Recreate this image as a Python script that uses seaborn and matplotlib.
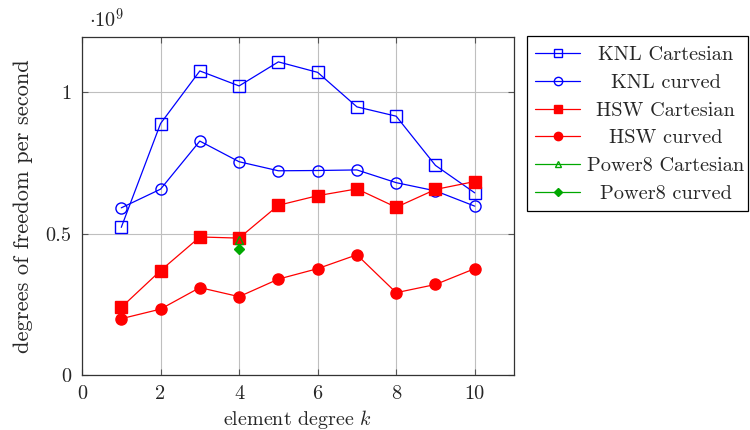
import matplotlib
matplotlib.use("Agg")
import matplotlib.pyplot as plt
import seaborn as sns
import pandas as pd
from matplotlib.patches import Rectangle
from matplotlib.ticker import FuncFormatter, FixedLocator

degrees = [1, 2, 3, 4, 5, 6, 7, 8, 9, 10]
knl_cartesian = [0.522e9, 0.889e9, 1.075e9, 1.022e9, 1.107e9, 1.070e9, 0.948e9, 0.915e9, 0.741e9, 0.644e9]
knl_curved = [0.591e9, 0.657e9, 0.827e9, 0.754e9, 0.722e9, 0.723e9, 0.725e9, 0.680e9, 0.651e9, 0.597e9]
hsw_cartesian = [0.239e9, 0.369e9, 0.488e9, 0.484e9, 0.600e9, 0.634e9, 0.658e9, 0.593e9, 0.656e9, 0.684e9]
hsw_curved = [0.199e9, 0.233e9, 0.309e9, 0.277e9, 0.339e9, 0.376e9, 0.425e9, 0.291e9, 0.320e9, 0.376e9]
power8_degrees = [4]
power8_cartesian = [0.477e9]
power8_curved = [0.446e9]

x_ticks = [0, 2, 4, 6, 8, 10]
y_ticks = [0, 0.5e9, 1.0e9]

sns.set_theme(style="white")
plt.rcParams["font.family"] = ["cmr10", "DejaVu Serif"]
plt.rcParams["mathtext.fontset"] = "cm"
plt.rcParams["axes.unicode_minus"] = False

W, H = 750, 430
fig = plt.figure(figsize=(7.5, 4.3), dpi=100)
ax = fig.add_axes([82 / W, 1 - 375 / H, (514 - 82) / W, (375 - 37) / H])
renderer = fig.canvas.get_renderer()


def fit_size(s, target_px):
    t = fig.text(0, 0, s, fontsize=10)
    w = t.get_window_extent(renderer).width
    t.remove()
    return 10.0 * target_px / w


FS_LEG = fit_size("Power8 Cartesian", 157)
FS_YL = fit_size("degrees of freedom per second", 294)
FS_XL = fit_size(r"element degree $k$", 150)
FS_TICK = fit_size("0.5", 26)

BLUE = "#0000ff"
RED = "#ff0000"
GREEN = "#00a800"

series = [
    ("KNL Cartesian", degrees, knl_cartesian, BLUE, "s", "none", 8.5),
    ("KNL curved", degrees, knl_curved, BLUE, "o", "none", 8),
    ("HSW Cartesian", degrees, hsw_cartesian, RED, "s", RED, 8.5),
    ("HSW curved", degrees, hsw_curved, RED, "o", RED, 8),
    ("Power8 Cartesian", power8_degrees, power8_cartesian, GREEN, "^", "none", 6),
    ("Power8 curved", power8_degrees, power8_curved, GREEN, "D", GREEN, 5),
]

for name, xs, ys, col, mk, fc, ms in series:
    df = pd.DataFrame({"k": xs, "v": ys})
    sns.lineplot(data=df, x="k", y="v", ax=ax, color=col, marker=mk,
                 markerfacecolor=fc, markeredgecolor=col, markersize=ms,
                 markeredgewidth=1.0, linewidth=0.9, label=name, zorder=3)

ax.set_xlim(0, 11)
ax.set_ylim(0, 1.195e9)
ax.xaxis.set_major_locator(FixedLocator(x_ticks))
ax.yaxis.set_major_locator(FixedLocator(y_ticks))
ax.yaxis.set_major_formatter(FuncFormatter(lambda v, p: "%g" % (v / 1e9)))
ax.xaxis.set_major_formatter(FuncFormatter(lambda v, p: "%d" % v))
ax.grid(True, color="#bfbfbf", linewidth=0.8, zorder=0)
ax.tick_params(axis="both", direction="in", length=4, width=0.8, color="#555555",
               labelsize=FS_TICK, top=True, right=True, bottom=True, left=True)
ax.tick_params(axis="x", pad=7)
ax.tick_params(axis="y", pad=7.5)
for sp in ax.spines.values():
    sp.set_color("#333333")
    sp.set_linewidth(0.9)

ax.set_xlabel(r"element degree $k$", fontsize=FS_XL, labelpad=3.5)
ax.set_ylabel("degrees of freedom per second", fontsize=FS_YL, labelpad=9)
fig.text(89 / W, 1 - 27 / H, r"$\cdot 10^9$", fontsize=FS_TICK,
         ha="left", va="baseline")

fs_px = FS_LEG * 100 / 72
probe = fig.text(0, 0, "KNL Cartesian", fontsize=FS_LEG)
text_h = probe.get_window_extent(renderer).height
probe.remove()

# legend contents (frame drawn separately to get pgfplots-like padding)
first_row_center = 55
leg = ax.legend(loc="upper left",
                bbox_to_anchor=(535 / W, 1 - (first_row_center - text_h / 2) / H),
                bbox_transform=fig.transFigure, frameon=False, fontsize=FS_LEG,
                handlelength=45 / fs_px, handletextpad=7 / fs_px,
                labelspacing=max(0.0, (27.4 - text_h) / fs_px),
                borderpad=0, borderaxespad=0, markerscale=0.75)
fig.patches.append(Rectangle((527 / W, 1 - 211 / H), 221 / W, 175 / H,
                             transform=fig.transFigure, fill=False,
                             edgecolor="black", linewidth=0.9, zorder=5))

# centre the legend labels in their column, as in the reference
fig.canvas.draw()
boxes = [t.get_window_extent(renderer) for t in leg.get_texts()]
x_left = min(b.x0 for b in boxes)
col_w = max(b.width for b in boxes)
inv = fig.transFigure.inverted()
for t, b in zip(leg.get_texts(), boxes):
    cx, cy = inv.transform((x_left + col_w / 2, (b.y0 + b.y1) / 2))
    fig.text(cx, cy, t.get_text(), fontsize=FS_LEG, ha="center", va="center",
             zorder=10)
    t.set_alpha(0)

fig.savefig("out.png", dpi=100)
